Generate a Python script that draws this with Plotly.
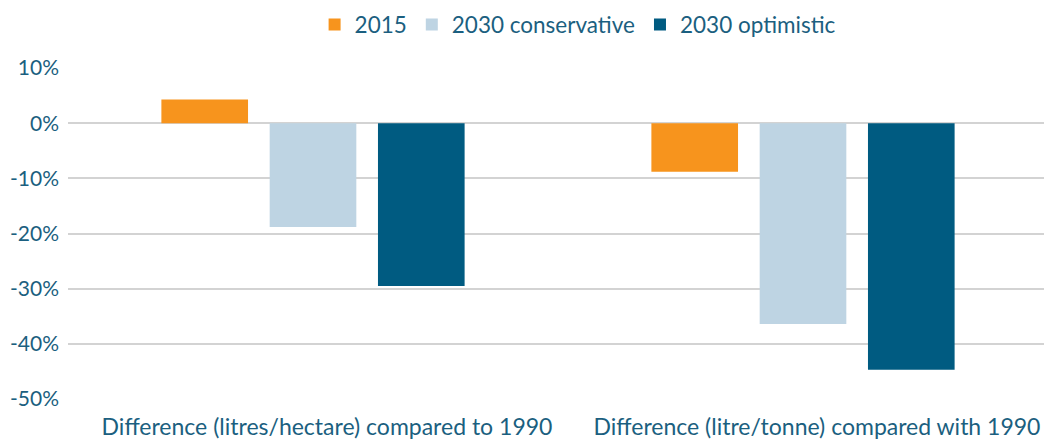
import plotly.graph_objects as go

categories = ["Difference (litres/hectare) compared to 1990",
              "Difference (litre/tonne) compared with 1990"]
series_names = ["2015", "2030 conservative", "2030 optimistic"]
values_2015 = [4.3, -8.8]
values_2030_cons = [-18.8, -36.4]
values_2030_opt = [-29.5, -44.7]
colors = ["#F7941D", "#BED4E3", "#005B81"]
tick_vals = [10, 0, -10, -20, -30, -40, -50]
tick_text = ["10%", "0%", "-10%", "-20%", "-30%", "-40%", "-50%"]

text_color = "#1B5F80"
font_family = "Lato, 'Open Sans', sans-serif"

fig = go.Figure()
for name, vals, col in zip(series_names, [values_2015, values_2030_cons, values_2030_opt], colors):
    fig.add_trace(go.Bar(x=categories, y=vals, name=name, marker_color=col,
                         marker_line_width=0))

fig.update_layout(
    width=1044, height=436,
    margin=dict(l=60, r=4, t=60, b=45, autoexpand=False),
    paper_bgcolor="white", plot_bgcolor="white",
    barmode="group", bargap=0.337, bargroupgap=0.2,
    font=dict(family=font_family, size=21, color=text_color),
    legend=dict(orientation="h", x=0.52, xanchor="center", y=1.195, yanchor="top",
                yref="paper", font=dict(size=22.5, color=text_color),
                itemwidth=30, traceorder="normal"),
    showlegend=True,
)
fig.update_yaxes(range=[-50, 10], tickvals=tick_vals, ticktext=tick_text,
                 showgrid=True, gridcolor="#D3D3D3", gridwidth=1.5,
                 zeroline=True, zerolinecolor="#D3D3D3", zerolinewidth=1.5,
                 showline=False, ticks="", ticklabelstandoff=8,
                 tickfont=dict(size=21, color=text_color))
fig.update_xaxes(showgrid=False, showline=False, ticks="", ticklabelstandoff=12,
                 ticklabelshift=14,
                 tickfont=dict(size=23, color=text_color))

fig.write_html("out.html")
